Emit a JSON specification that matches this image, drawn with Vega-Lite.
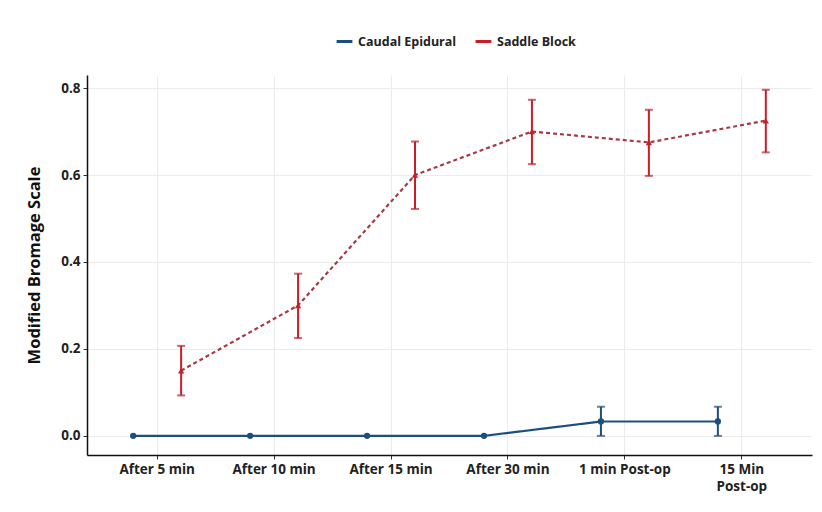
{
  "$schema": "https://vega.github.io/schema/vega-lite/v6.json",
  "autosize": "none",
  "width": 725,
  "height": 380,
  "padding": {"left": 87, "top": 75, "right": 10, "bottom": 57},
  "background": "white",
  "data": {
    "values": [
      {"time": "After 5 min", "group": "Caudal Epidural", "mean": 0, "lo": null, "hi": null},
      {"time": "After 10 min", "group": "Caudal Epidural", "mean": 0, "lo": null, "hi": null},
      {"time": "After 15 min", "group": "Caudal Epidural", "mean": 0, "lo": null, "hi": null},
      {"time": "After 30 min", "group": "Caudal Epidural", "mean": 0, "lo": null, "hi": null},
      {"time": "1 min Post-op", "group": "Caudal Epidural", "mean": 0.033, "lo": 0.0, "hi": 0.067},
      {"time": "15 Min Post-op", "group": "Caudal Epidural", "mean": 0.033, "lo": 0.0, "hi": 0.067},
      {"time": "After 5 min", "group": "Saddle Block", "mean": 0.15, "lo": 0.093, "hi": 0.207},
      {"time": "After 10 min", "group": "Saddle Block", "mean": 0.30, "lo": 0.225, "hi": 0.373},
      {"time": "After 15 min", "group": "Saddle Block", "mean": 0.60, "lo": 0.522, "hi": 0.677},
      {"time": "After 30 min", "group": "Saddle Block", "mean": 0.70, "lo": 0.625, "hi": 0.773},
      {"time": "1 min Post-op", "group": "Saddle Block", "mean": 0.675, "lo": 0.598, "hi": 0.75},
      {"time": "15 Min Post-op", "group": "Saddle Block", "mean": 0.725, "lo": 0.652, "hi": 0.796}
    ]
  },
  "encoding": {
    "x": {
      "field": "time",
      "type": "nominal",
      "sort": ["After 5 min", "After 10 min", "After 15 min", "After 30 min", "1 min Post-op", "15 Min Post-op"],
      "scale": {"type": "band", "paddingInner": 0, "paddingOuter": 0.1},
      "axis": {
        "title": null,
        "labelAngle": 0,
        "bandPosition": 0.5,
        "labelLineHeight": 17,
        "labelExpr": "datum.label == '15 Min Post-op' ? ['15 Min', 'Post-op'] : datum.label"
      }
    },
    "xOffset": {
      "field": "group",
      "type": "nominal",
      "scale": {"type": "band", "domain": ["Caudal Epidural", "Saddle Block"], "paddingInner": 0, "paddingOuter": 0.22}
    }
  },
  "layer": [
    {
      "mark": {"type": "line", "strokeWidth": 2.2},
      "encoding": {
        "y": {
          "field": "mean",
          "type": "quantitative",
          "scale": {"domain": [-0.044, 0.83], "nice": false, "zero": false},
          "axis": {"title": "Modified Bromage Scale", "values": [0, 0.2, 0.4, 0.6, 0.8], "format": ".1f"}
        },
        "color": {
          "field": "group",
          "type": "nominal",
          "scale": {"domain": ["Caudal Epidural", "Saddle Block"], "range": ["#1d4f7e", "#a63a45"]},
          "legend": null
        },
        "strokeDash": {
          "field": "group",
          "type": "nominal",
          "scale": {"domain": ["Caudal Epidural", "Saddle Block"], "range": [[1, 0], [4, 3]]},
          "legend": null
        }
      }
    },
    {
      "transform": [{"filter": "datum.lo != null"}],
      "mark": {"type": "rule", "strokeWidth": 2},
      "encoding": {
        "y": {"field": "lo", "type": "quantitative"},
        "y2": {"field": "hi"},
        "color": {
          "field": "group",
          "type": "nominal",
          "scale": {"domain": ["Caudal Epidural", "Saddle Block"], "range": ["#1d4f7e", "#c81e2a"]},
          "legend": {
            "title": null,
            "orient": "none",
            "direction": "horizontal",
            "legendX": 248,
            "legendY": -43,
            "symbolType": "stroke",
            "symbolStrokeWidth": 3,
            "symbolSize": 250,
            "labelFont": "Open Sans",
            "labelFontSize": 12.5,
            "labelFontWeight": "bold",
            "labelColor": "#222222",
            "columnPadding": 12
          }
        }
      }
    },
    {
      "transform": [{"filter": "datum.lo != null"}],
      "mark": {"type": "tick", "size": 8, "thickness": 2},
      "encoding": {
        "y": {"field": "lo", "type": "quantitative"},
        "color": {
          "field": "group",
          "type": "nominal",
          "scale": {"domain": ["Caudal Epidural", "Saddle Block"], "range": ["#1d4f7e", "#b5222d"]},
          "legend": null
        }
      }
    },
    {
      "transform": [{"filter": "datum.lo != null"}],
      "mark": {"type": "tick", "size": 8, "thickness": 2},
      "encoding": {
        "y": {"field": "hi", "type": "quantitative"},
        "color": {
          "field": "group",
          "type": "nominal",
          "scale": {"domain": ["Caudal Epidural", "Saddle Block"], "range": ["#1d4f7e", "#b5222d"]},
          "legend": null
        }
      }
    },
    {
      "mark": {"type": "point", "filled": true, "size": 40, "opacity": 1},
      "encoding": {
        "y": {"field": "mean", "type": "quantitative"},
        "color": {
          "field": "group",
          "type": "nominal",
          "scale": {"domain": ["Caudal Epidural", "Saddle Block"], "range": ["#1d4f7e", "#c81e2a"]},
          "legend": null
        },
        "shape": {
          "field": "group",
          "type": "nominal",
          "scale": {"domain": ["Caudal Epidural", "Saddle Block"], "range": ["circle", "triangle-up"]},
          "legend": null
        }
      }
    }
  ],
  "resolve": {"scale": {"color": "independent"}},
  "config": {
    "font": "Open Sans",
    "view": {"stroke": null},
    "axis": {
      "labelFont": "Open Sans",
      "labelFontSize": 13.5,
      "labelFontWeight": "bold",
      "labelColor": "#222222",
      "titleFont": "Open Sans",
      "titleFontSize": 16.5,
      "titleFontWeight": "bold",
      "titleColor": "#111111",
      "domainColor": "#111111",
      "domainWidth": 1.5,
      "tickColor": "#333333",
      "tickSize": 4,
      "labelPadding": 3,
      "gridColor": "#ebebeb",
      "gridWidth": 1
    },
    "axisY": {"titlePadding": 18},
    "axisX": {"grid": true}
  }
}
